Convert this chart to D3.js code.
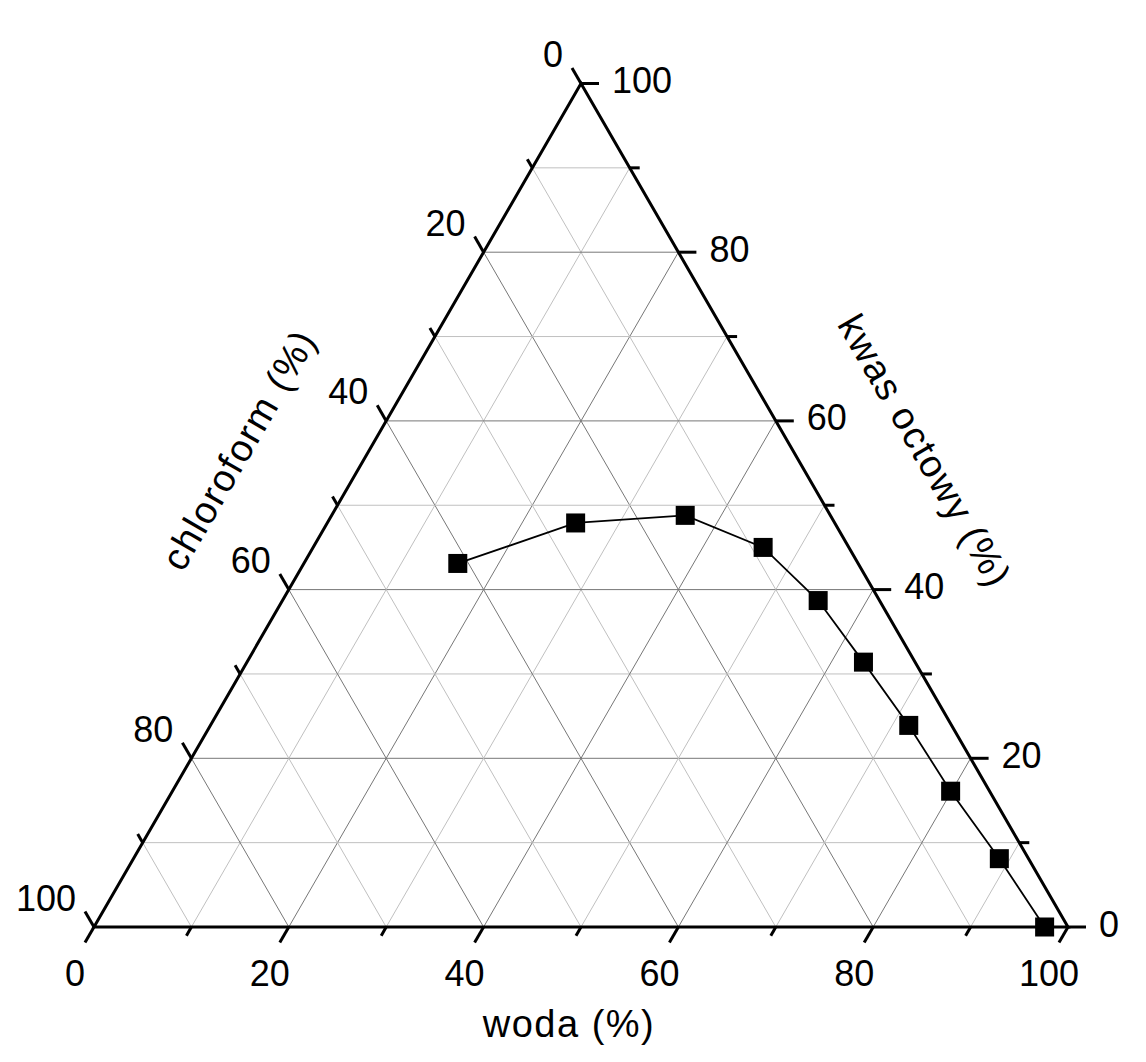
<!DOCTYPE html>
<html>
<head>
<meta charset="utf-8">
<script src="https://cdn.jsdelivr.net/npm/d3@7"></script>
<style>
    body { margin: 0; background: #fff; }
    text { font-family: Arial, "Liberation Sans", sans-serif; fill: #000; }
</style>
</head>
<body>
<div id="chart"></div>
<script>
// skład punktów (%)
const woda = [15.8, 25.5, 36.3, 46.2, 55.0, 63.3, 71.7, 79.9, 88.9, 97.6];
const chloroform = [41.1, 26.6, 14.9, 8.8, 6.3, 5.3, 4.4, 4.0, 3.0, 2.4];
const kwas = [43.1, 47.9, 48.8, 45.0, 38.7, 31.4, 23.9, 16.1, 8.1, 0.0];

const tickValues = [0, 10, 20, 30, 40, 50, 60, 70, 80, 90, 100];
const labelValues = [0, 20, 40, 60, 80, 100];
const axisTitles = { bottom: "woda (%)", left: "chloroform (%)", right: "kwas octowy (%)" };

const width = 1146, height = 1062;
const side = 974, left = 94, base = 927;
const h = side * Math.sqrt(3) / 2;

const svg = d3.select('#chart').append('svg')
    .attr('width', width)
    .attr('height', height);

const sx = d3.scaleLinear().domain([0, 100]).range([left, left + side]);
const sy = d3.scaleLinear().domain([0, 100]).range([base, base - h]);

// (woda, kwas) -> piksele, chloroform = reszta
const pos = (w, k) => [sx(w + k / 2), sy(k)];

// siatka
const inner = tickValues.filter(v => v > 0 && v < 100);
const segs = inner.flatMap(v => [
    { v, a: pos(v, 0), b: pos(v, 100 - v) },
    { v, a: pos(0, v), b: pos(100 - v, v) },
    { v, a: pos(100 - v, 0), b: pos(0, 100 - v) }
]);
svg.append('g').selectAll('line')
    .data(segs)
    .enter().append('line')
    .attr('x1', d => d.a[0]).attr('y1', d => d.a[1])
    .attr('x2', d => d.b[0]).attr('y2', d => d.b[1])
    .attr('stroke', d => d.v % 20 === 0 ? '#777' : '#c0c0c0')
    .attr('stroke-width', 1);

// trójkąt
svg.append('path')
    .attr('d', d3.line()([pos(0, 0), pos(100, 0), pos(0, 100)]) + 'Z')
    .attr('fill', 'none')
    .attr('stroke', '#000')
    .attr('stroke-width', 3);

// kreski osi
const axes = [
    { at: t => pos(t, 0), dir: [-0.5, 0.866] },        // woda
    { at: t => pos(0, 100 - t), dir: [-0.5, -0.866] }, // chloroform
    { at: t => pos(100 - t, t), dir: [1, 0] }          // kwas octowy
];
axes.forEach(ax => {
    svg.append('g').selectAll('line')
        .data(tickValues)
        .enter().append('line')
        .attr('x1', t => ax.at(t)[0])
        .attr('y1', t => ax.at(t)[1])
        .attr('x2', t => ax.at(t)[0] + ax.dir[0] * (t % 20 === 0 ? 18 : 10))
        .attr('y2', t => ax.at(t)[1] + ax.dir[1] * (t % 20 === 0 ? 18 : 10))
        .attr('stroke', '#000')
        .attr('stroke-width', 3);
});

// etykiety
svg.append('g').selectAll('text')
    .data(labelValues)
    .enter().append('text')
    .attr('x', t => pos(t, 0)[0] - 19)
    .attr('y', base + 58.5)
    .attr('text-anchor', 'middle')
    .style('font-size', '36px')
    .text(t => t);

svg.append('g').selectAll('text')
    .data(labelValues)
    .enter().append('text')
    .attr('x', t => pos(0, 100 - t)[0] - 18)
    .attr('y', t => pos(0, 100 - t)[1] - 16.5)
    .attr('text-anchor', 'end')
    .style('font-size', '36px')
    .text(t => t);

svg.append('g').selectAll('text')
    .data(labelValues)
    .enter().append('text')
    .attr('x', t => pos(100 - t, t)[0] + 31)
    .attr('y', t => pos(100 - t, t)[1] + 9.5)
    .attr('text-anchor', 'start')
    .style('font-size', '36px')
    .text(t => t);

// tytuły osi
svg.append('text')
    .attr('x', sx(50) - 12)
    .attr('y', base + 110)
    .attr('text-anchor', 'middle')
    .style('font-size', '38px')
    .style('letter-spacing', '1.5px')
    .text(axisTitles.bottom);

const pl = pos(0, 50);
svg.append('text')
    .attr('transform', `translate(${pl[0] - 100 * 0.866 - 0.5},${pl[1] - 100 * 0.5 + 0.9}) rotate(-60)`)
    .attr('text-anchor', 'middle')
    .style('font-size', '38px')
    .style('letter-spacing', '1.5px')
    .text(axisTitles.left);

const pr = pos(50, 50);
svg.append('text')
    .attr('transform', `translate(${pr[0] + 101 * 0.866 + 1.5},${pr[1] - 101 * 0.5 + 2.6}) rotate(60)`)
    .attr('text-anchor', 'middle')
    .style('font-size', '38px')
    .style('letter-spacing', '1.5px')
    .text(axisTitles.right);

// dane
const pts = woda.map((w, i) => {
    const s = w + chloroform[i] + kwas[i];
    return pos(w * 100 / s, kwas[i] * 100 / s);
});

svg.append('path')
    .attr('d', d3.line()(pts))
    .attr('fill', 'none')
    .attr('stroke', '#000')
    .attr('stroke-width', 1.8);

svg.append('g').selectAll('rect')
    .data(pts)
    .enter().append('rect')
    .attr('x', d => d[0] - 9.5)
    .attr('y', d => d[1] - 9.5)
    .attr('width', 19)
    .attr('height', 19)
    .attr('fill', '#000');
</script>
</body>
</html>
